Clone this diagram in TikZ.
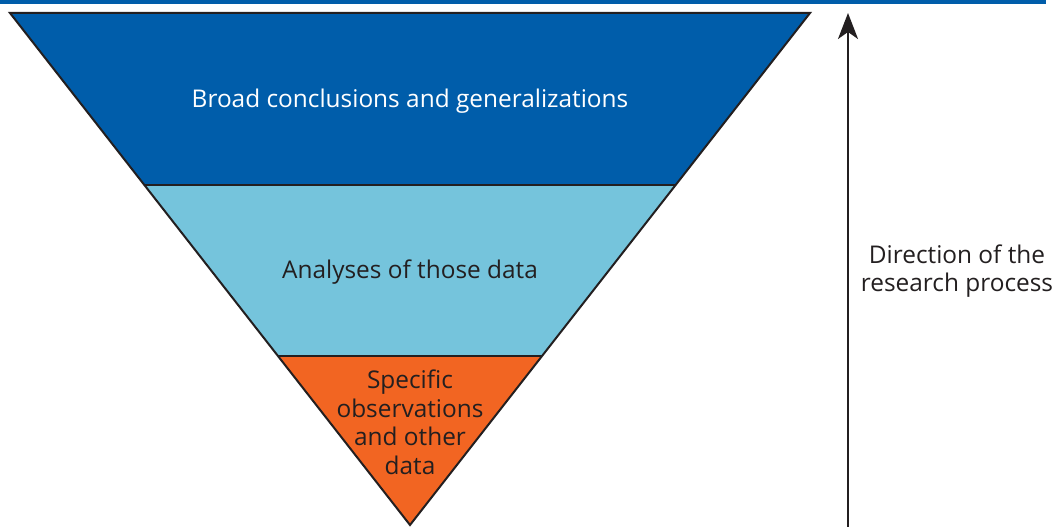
\documentclass[tikz,border=0pt]{standalone}
\usepackage{fontspec}
\setmainfont{Open Sans}
\usetikzlibrary{arrows.meta}
\definecolor{darkblue}{HTML}{005DAA}
\definecolor{lightblue}{HTML}{75C4DC}
\definecolor{orangefill}{HTML}{F26522}
\definecolor{txt}{HTML}{231F20}
\begin{document}
\begin{tikzpicture}[x=1pt,y=-1pt,
  band/.style={draw=txt,line width=2pt,line join=miter},
  lbl/.style={font=\fontsize{24.4}{28.5}\selectfont,align=center,inner sep=0pt}]
\useasboundingbox (0,0) rectangle (1054,527);
\fill[darkblue] (0,0) rectangle (1046,4);
\coordinate (TL) at (10,13);
\coordinate (TR) at (810,13);
\coordinate (A) at (410,525);
\coordinate (L1) at (144.4,185);
\coordinate (R1) at (675.6,185);
\coordinate (L2) at (278,356);
\coordinate (R2) at (542,356);
\fill[darkblue] (TL) -- (TR) -- (R1) -- (L1) -- cycle;
\fill[lightblue] (L1) -- (R1) -- (R2) -- (L2) -- cycle;
\fill[orangefill] (L2) -- (R2) -- (A) -- cycle;
\draw[band] (L1) -- (R1) (L2) -- (R2);
\draw[band] (TL) -- (TR) -- (A) -- cycle;
\node[lbl,text=white] (t1) at (410,101) {Broad conclusions and generalizations};
\node[lbl,text=txt] (t2) at (410,272) {Analyses of those data};
\node[lbl,text=txt] (t3) at (410,422.5) {Specific\\observations\\and other\\data};
\coordinate (ab) at (848,527);
\coordinate (at) at (848,13);
\draw[txt,line width=2pt,-{Stealth[length=26pt,width=20pt,inset=7pt]}] (ab) -- (at);
\node[lbl,text=txt] (t4) at (957,271) {Direction of the\\research process};
\end{tikzpicture}
\end{document}
